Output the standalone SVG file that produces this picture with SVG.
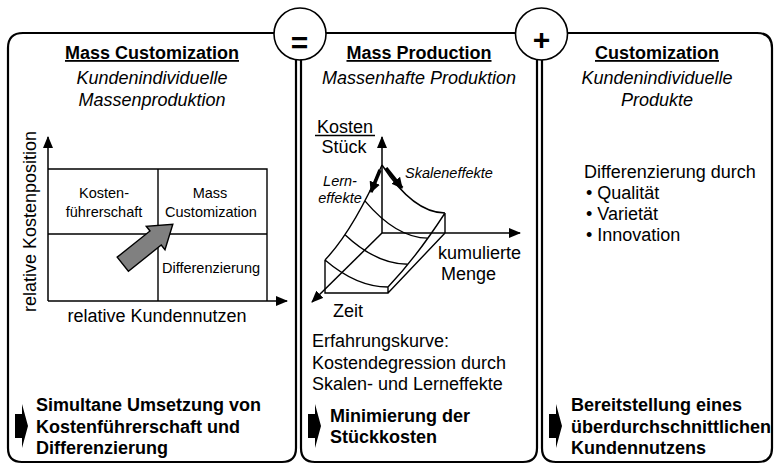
<svg xmlns="http://www.w3.org/2000/svg" width="778" height="464" viewBox="0 0 778 464">
<defs>
<marker id="ah" markerUnits="userSpaceOnUse" markerWidth="12" markerHeight="10" refX="11" refY="5" orient="auto"><path d="M0,0 L12,5 L0,10 z" fill="#000"/></marker>
<marker id="bh" markerUnits="userSpaceOnUse" markerWidth="11" markerHeight="11" refX="10" refY="5.5" orient="auto"><path d="M0,0 L11,5.5 L0,11 z" fill="#000"/></marker>
<style>
.t{font-family:"Liberation Sans",Arial,sans-serif;fill:#000}
.b{font-weight:bold}
.i{font-style:italic}
.s18{font-size:18px}
.s14{font-size:14.5px}
.m{text-anchor:middle}
.u{text-decoration:underline}
.frame{fill:none;stroke:#000;stroke-width:2.2}
.op{fill:#fff;stroke:#000;stroke-width:1.6}
.ln{fill:none;stroke:#000;stroke-width:1.4}
.ax{fill:none;stroke:#000;stroke-width:1.5;marker-end:url(#ah)}
.thick{fill:none;stroke:#000;stroke-width:3.5;marker-end:url(#bh)}
.blk{fill:#000}
</style>
</defs>
<rect width="778" height="464" fill="#fff"/>

<g id="connectors">
<path class="frame" d="M326,33 L515.5,33"/>
</g>

<g id="panel-mass-customization">
<path class="frame" d="M274,33 L23,33 Q8,33 8,48 L8,448 Q8,462 22,462 L282,462 Q296,462 296,448 L296,59.7"/>
<text class="t b s18 m u" x="152" y="59">Mass Customization</text>
<text class="t i s18 m" x="152" y="84">Kundenindividuelle</text>
<text class="t i s18 m" x="152" y="106">Massenproduktion</text>
<path class="ln" d="M48,169 H267 V301 M48,234 H267 M158,169 V301"/>
<path class="ax" d="M48,301 V137"/>
<path class="ax" d="M48,301 H287"/>
<text class="t s14 m" x="104" y="198">Kosten-</text>
<text class="t s14 m" x="104" y="216.5">führerschaft</text>
<text class="t s14 m" x="210" y="198">Mass</text>
<text class="t s14 m" x="211" y="216.5">Customization</text>
<text class="t s14 m" x="211" y="273">Differenzierung</text>
<polygon points="0,-9 42,-9 42,-15 64,0 42,15 42,9 0,9" fill="#808080" stroke="#000" stroke-width="1.4" transform="translate(122.8,264.2) rotate(-38.6)"/>
<text class="t s18 m" x="157" y="322">relative Kundennutzen</text>
<text class="t s18 m" transform="translate(36,221.5) rotate(-90)">relative Kostenposition</text>
<polygon class="blk" points="15,414 22,414 22,404 28,426 22,448 22,438 15,438"/>
<text class="t b s18" x="36" y="411">Simultane Umsetzung von</text>
<text class="t b s18" x="36" y="432.5">Kostenführerschaft und</text>
<text class="t b s18" x="36" y="454">Differenzierung</text>
</g>

<g id="op-equals">
<circle class="op" cx="300" cy="34" r="26"/>
<text class="t b m" x="299.5" y="52.5" style="font-size:30px">=</text>
</g>

<g id="panel-mass-production">
<path class="frame" d="M301,59.5 L301,448 Q301,462 315,462 L523,462 Q537,462 537,448 L537,59.6"/>
<text class="t b s18 m u" x="419" y="59">Mass Production</text>
<text class="t i s18 m" x="419" y="84">Massenhafte Produktion</text>
<text class="t s18 m" x="345" y="132.5">Kosten</text>
<path class="ln" d="M315,135.5 H375"/>
<text class="t s18 m" x="344" y="153">Stück</text>
<path class="ax" d="M382,233 V137"/>
<path class="ax" d="M382,233 H520"/>
<path class="ax" d="M382,233 L312,302"/>
<path class="ln" d="M382,165 Q413.5,213 445,213 M382,165 Q353.5,230 325,260 M325,260 Q356.5,287 388,287 M445,213 Q416.5,257 388,287 M364.9,200.85 Q396.4,238.1 427.9,238.1 M345,234.7 Q376.5,264.3 408,264.3 M325,260 V293 H388 V287 M445,213 V233 M388,293 L445,233"/>
<path class="thick" d="M380,170 L371,192"/>
<path class="thick" d="M386,168 L402,188"/>
<text class="t i s14" x="405" y="178">Skaleneffekte</text>
<text class="t i s14 m" x="340" y="186">Lern-</text>
<text class="t i s14 m" x="340" y="202.5">effekte</text>
<text class="t s18" x="438" y="259">kumulierte</text>
<text class="t s18" x="441" y="280">Menge</text>
<text class="t s18" x="333" y="317">Zeit</text>
<text class="t s18" x="312" y="347">Erfahrungskurve:</text>
<text class="t s18" x="312" y="368.5">Kostendegression durch</text>
<text class="t s18" x="312" y="390">Skalen- und Lerneffekte</text>
<polygon class="blk" points="308,414 315,414 315,404 321,426 315,448 315,438 308,438"/>
<text class="t b s18" x="330" y="421.5">Minimierung der</text>
<text class="t b s18" x="330" y="443">Stückkosten</text>
</g>

<g id="op-plus">
<circle class="op" cx="541.5" cy="34" r="26"/>
<text class="t b m" x="541.5" y="49.5" style="font-size:30px">+</text>
</g>

<g id="panel-customization">
<path class="frame" d="M567.5,33 L757,33 Q772,33 772,48 L772,448 Q772,462 758,462 L556,462 Q542,462 542,448 L542,60"/>
<text class="t b s18 m u" x="657" y="59">Customization</text>
<text class="t i s18 m" x="657" y="84">Kundenindividuelle</text>
<text class="t i s18 m" x="657" y="106">Produkte</text>
<text class="t s18" x="584" y="178">Differenzierung durch</text>
<text class="t s18" x="586" y="199">• Qualität</text>
<text class="t s18" x="586" y="220">• Varietät</text>
<text class="t s18" x="586" y="241">• Innovation</text>
<polygon class="blk" points="549,414 556,414 556,404 562,426 556,448 556,438 549,438"/>
<text class="t b s18" x="571" y="411">Bereitstellung eines</text>
<text class="t b s18" x="571" y="432.5">überdurchschnittlichen</text>
<text class="t b s18" x="571" y="454">Kundennutzens</text>
</g>
</svg>
